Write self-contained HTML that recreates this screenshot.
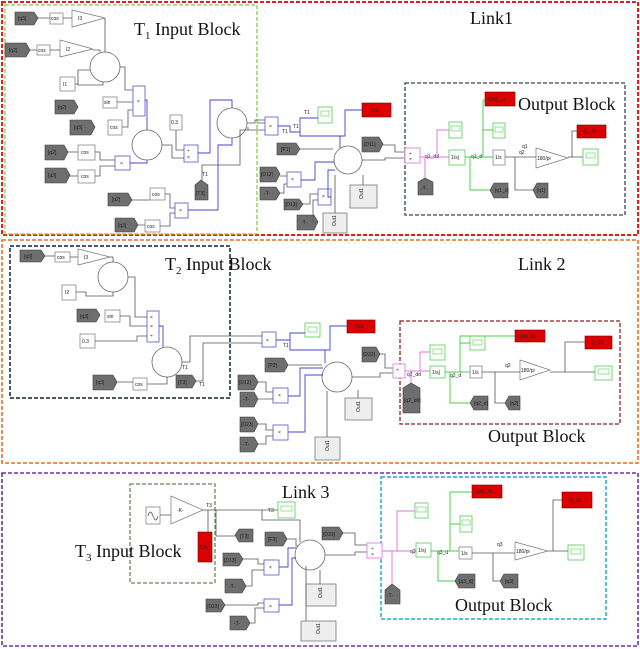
<!DOCTYPE html>
<html><head><meta charset="utf-8"><style>
html,body{margin:0;padding:0;background:#fff;width:640px;height:649px;overflow:hidden}
svg{display:block}
.t{font-family:"Liberation Sans",sans-serif;font-size:5px;fill:#222}
.big{font-family:"Liberation Serif",serif;font-size:18px;fill:#111}
.tag{fill:#6e6e6e;stroke:#3a3a3a;stroke-width:0.6}
.blk{fill:#fff;stroke:#777;stroke-width:0.7}
.bb{fill:#fff;stroke:#55c;stroke-width:0.8}
.pb{fill:#fff;stroke:#e070e0;stroke-width:0.8}
.gb{fill:#fff;stroke:#5c5;stroke-width:0.8}
.red{fill:#dd0000;stroke:#700;stroke-width:0.6}
.out{fill:#eee;stroke:#666;stroke-width:0.7}
.w{fill:none;stroke:#555;stroke-width:0.8}
.wb{fill:none;stroke:#44c;stroke-width:0.9}
.wp{fill:none;stroke:#e070e0;stroke-width:0.9}
.wg{fill:none;stroke:#4c4;stroke-width:0.9}
.c{fill:#fff;stroke:#666;stroke-width:0.8}
</style></head><body>
<svg width="640" height="649" viewBox="0 0 640 649" xmlns="http://www.w3.org/2000/svg">
<rect x="2" y="2" width="636" height="233" fill="none" stroke="#e02020" stroke-width="2" stroke-dasharray="4,2"/>
<rect x="5" y="5" width="252" height="229" fill="none" stroke="#8c4" stroke-width="1.3" stroke-dasharray="4,2"/>
<rect x="405" y="83" width="220" height="132" fill="none" stroke="#345" stroke-width="1.3" stroke-dasharray="4,2"/>
<rect x="2" y="240" width="636" height="223" fill="none" stroke="#e07020" stroke-width="1.6" stroke-dasharray="4,2"/>
<rect x="10" y="246" width="220" height="152" fill="none" stroke="#123" stroke-width="1.5" stroke-dasharray="4,2"/>
<rect x="400" y="321" width="220" height="103" fill="none" stroke="#822" stroke-width="1.3" stroke-dasharray="4,2"/>
<rect x="2" y="473" width="636" height="173" fill="none" stroke="#7030a0" stroke-width="1.6" stroke-dasharray="4,2"/>
<rect x="130" y="484" width="85" height="99" fill="none" stroke="#685" stroke-width="1.3" stroke-dasharray="4,2"/>
<rect x="381" y="477" width="225" height="142" fill="none" stroke="#2ac" stroke-width="1.5" stroke-dasharray="4,2"/>

<text class="big" x="134" y="35">T<tspan font-size="11" dy="4">1</tspan><tspan dy="-4"> Input Block</tspan></text>
<text class="big" x="470" y="24">Link1</text>
<text class="big" x="518" y="110">Output Block</text>
<text class="big" x="165" y="270">T<tspan font-size="11" dy="4">2</tspan><tspan dy="-4"> Input Block</tspan></text>
<text class="big" x="518" y="270">Link 2</text>
<text class="big" x="488" y="442">Output Block</text>
<text class="big" x="282" y="498">Link 3</text>
<text class="big" x="75" y="557">T<tspan font-size="11" dy="4">3</tspan><tspan dy="-4"> Input Block</tspan></text>
<text class="big" x="455" y="611">Output Block</text>

<g>
<polygon class="tag" points="15,12 34,12 38,18 34,25 15,25"/><text class="t" x="18" y="20">[q3]</text>
<rect class="blk" x="50" y="13" width="13" height="11"/><text class="t" x="51" y="20">cos</text>
<polygon class="blk" points="72,10 105,18 72,27"/><text class="t" x="78" y="20">I3</text>
<polygon class="tag" points="5,43 26,43 30,50 26,57 5,57"/><text class="t" x="9" y="52">[q2]</text>
<rect class="blk" x="37" y="45" width="13" height="10"/><text class="t" x="38" y="52">cos</text>
<polygon class="blk" points="60,40 93,49 60,57"/><text class="t" x="66" y="51">I2</text>
<circle class="c" cx="105" cy="67" r="15"/>
<rect class="blk" x="60" y="77" width="15" height="14"/><text class="t" x="63" y="86">I1</text>
<polygon class="tag" points="55,100 74,100 78,107 74,114 55,114"/><text class="t" x="58" y="109">[q2]</text>
<rect class="blk" x="103" y="97" width="14" height="11"/><text class="t" x="104" y="104">sin</text>
<rect class="bb" x="133" y="86" width="12" height="30"/><text class="t" x="137" y="103" fill="#44c">×</text>
<polygon class="tag" points="70,120 91,120 95,127 91,135 70,135"/><text class="t" x="74" y="129">[q3]</text>
<rect class="blk" x="108" y="120" width="14" height="15"/><text class="t" x="110" y="129">cos</text>
<circle class="c" cx="147" cy="145" r="15"/>
<polygon class="tag" points="45,145 64,145 68,152 64,160 45,160"/><text class="t" x="48" y="154">[q2]</text>
<rect class="blk" x="78" y="145" width="17" height="15"/><text class="t" x="81" y="154">cos</text>
<polygon class="tag" points="45,168 66,168 70,175 66,183 45,183"/><text class="t" x="48" y="177">[q3]</text>
<rect class="blk" x="78" y="170" width="17" height="13"/><text class="t" x="81" y="178">cos</text>
<rect class="bb" x="115" y="156" width="15" height="14"/><text class="t" x="120" y="165" fill="#44c">×</text>
<rect class="blk" x="170" y="115" width="12" height="15"/><text class="t" x="171" y="124">0.3</text>
<rect class="bb" x="184" y="145" width="14" height="17"/><text class="t" x="187" y="152" fill="#44c">÷</text><text class="t" x="187" y="159" fill="#44c">×</text>
<circle class="c" cx="232" cy="123" r="15"/>
<polygon class="tag" points="195,185 201,180 208,185 208,200 195,200"/><text class="t" x="196" y="195">[T3]</text><text class="t" x="202" y="176">T1</text>
<polygon class="tag" points="108,193 128,193 132,200 128,206 108,206"/><text class="t" x="112" y="201">[q2]</text>
<rect class="blk" x="150" y="188" width="15" height="12"/><text class="t" x="152" y="196">cos</text>
<rect class="bb" x="175" y="203" width="13" height="15"/><text class="t" x="179" y="212" fill="#44c">×</text>
<polygon class="tag" points="115,218 134,218 138,225 134,232 115,232"/><text class="t" x="118" y="227">[q3]</text>
<rect class="blk" x="145" y="220" width="15" height="12"/><text class="t" x="147" y="228">cos</text>
<path class="w" d="M38,18H50M63,18H72M105,18V52M30,50H37M50,50H60M93,50H100V52M75,84H78V70H90M78,84V85H103V82M120,67H125V90H133M117,102H133M122,127H128V110H133M68,152H78M95,152H100V160H115M70,176H78M95,176H100V166H115M162,145H172V158H184M176,130V150H184M132,200H150M165,194H170V208H175M138,225H145M160,226H170V213H175M202,180V165H240V130H265M247,123H255V120H265"/>
<path class="wb" d="M145,100H147V130M130,163H147V160M198,153H210V100H232V108M188,210H218V145H232V138"/>
<rect class="bb" x="265" y="117" width="13" height="18"/><text class="t" x="269" y="128" fill="#44c">×</text>
<text class="t" x="282" y="133" fill="#44c">T1</text><text class="t" x="293" y="128" fill="#44c">T1</text><text class="t" x="304" y="114" fill="#44c">T1</text>
<rect class="gb" x="318" y="107" width="14" height="16"/><rect x="321" y="111" width="8" height="5" fill="none" stroke="#5c5" stroke-width="0.6"/>
<rect class="red" x="362" y="103" width="29" height="14"/><text class="t" x="370" y="112">T1s</text>
<circle class="c" cx="348" cy="160" r="14"/>
<polygon class="tag" points="277,143 296,143 300,149 296,155 277,155"/><text class="t" x="281" y="151">[P1]</text>
<polygon class="tag" points="362,137 379,137 383,144 379,152 362,152"/><text class="t" x="364" y="146">[D11]</text>
<polygon class="tag" points="260,167 276,167 280,174 276,182 260,182"/><text class="t" x="261" y="176">[D12]</text>
<polygon class="tag" points="260,187 276,187 280,193 276,200 260,200"/><text class="t" x="264" y="195">-T-</text>
<rect class="bb" x="287" y="172" width="14" height="15"/><text class="t" x="291" y="181" fill="#44c">×</text>
<polygon class="tag" points="284,199 299,199 303,204 299,210 284,210"/><text class="t" x="285" y="206">[D13]</text>
<rect class="bb" x="318" y="189" width="13" height="16"/><text class="t" x="322" y="198" fill="#44c">×</text>
<polygon class="tag" points="297,215 314,215 318,222 314,230 297,230"/><text class="t" x="301" y="224">-T-</text>
<rect class="out" x="350" y="185" width="27" height="23"/><text class="t" x="360" y="198" transform="rotate(-90 362 197)">Out1</text>
<rect class="out" x="323" y="213" width="24" height="20"/><text class="t" x="332" y="224" transform="rotate(-90 335 223)">Out1</text>
<path class="wb" d="M278,126H290V132H300V118H318M300,132V136H340V148M300,136H345V110H362M301,180H315V162H334M331,197H328V170H335"/>
<path class="w" d="M248,127V130M300,149H333M280,176H287M280,193H284V184H287M303,204H310V194H318M318,222H313V200H318M362,160H385V158H405M383,145H395V152H405M363,185V175M335,213V175M257,123H265"/>
<rect class="pb" x="405" y="148" width="15" height="15"/><text class="t" x="409" y="155" fill="#d050d0">÷</text><text class="t" x="409" y="161" fill="#d050d0">×</text>
<polygon class="tag" points="418,182 425,178 433,182 433,195 418,195"/><text class="t" x="421" y="190">-T-</text>
<rect class="gb" x="449" y="122" width="13" height="16"/><rect x="451" y="126" width="9" height="5" fill="none" stroke="#5c5" stroke-width="0.6"/>
<rect class="gb" x="449" y="150" width="16" height="15"/><text class="t" x="451" y="159" fill="#3a3">1/s∫</text>
<rect class="blk" x="493" y="150" width="12" height="15"/><text class="t" x="495" y="159">1/s</text>
<polygon class="blk" points="536,148 568,158 536,168"/><text class="t" x="537" y="160">180/pi</text>
<rect class="gb" x="583" y="149" width="15" height="16"/><rect x="586" y="153" width="9" height="5" fill="none" stroke="#5c5" stroke-width="0.6"/>
<rect class="red" x="485" y="92" width="30" height="14"/><text class="t" x="488" y="101">Qdd_1s</text>
<rect class="red" x="577" y="125" width="29" height="13"/><text class="t" x="584" y="133">Q_1s</text>
<rect class="gb" x="493" y="123" width="12" height="15"/><rect x="495" y="127" width="8" height="5" fill="none" stroke="#5c5" stroke-width="0.6"/>
<polygon class="tag" points="490,190 494,183 508,183 508,198 494,198"/><text class="t" x="495" y="192">[q1_d]</text>
<polygon class="tag" points="533,190 537,183 548,183 548,198 537,198"/><text class="t" x="537" y="192">[q1]</text>
<text class="t" x="425" y="158">q1_dd</text><text class="t" x="471" y="158">q1_d</text><text class="t" x="522" y="148">q1</text><text class="t" x="519" y="154">q2</text>
<path class="wp" d="M420,157H449M437,157V130H449M425,157V178"/>
<path class="wg" d="M465,157H493M483,157V100H485M483,130H493M470,157V190H490"/>
<path class="w" d="M505,157H536M515,157V190H533M568,157H583M572,157V131H577"/>
</g>

<g>
<polygon class="tag" points="20,250 41,250 45,256 41,262 20,262"/><text class="t" x="24" y="258">[q3]</text>
<rect class="blk" x="55" y="252" width="15" height="10"/><text class="t" x="57" y="259">cos</text>
<polygon class="blk" points="78,249 110,257 78,265"/><text class="t" x="84" y="259">I3</text>
<circle class="c" cx="113" cy="277" r="15"/>
<rect class="blk" x="62" y="285" width="14" height="15"/><text class="t" x="65" y="294">I2</text>
<polygon class="tag" points="77,309 96,309 100,315 96,322 77,322"/><text class="t" x="80" y="318">[q3]</text>
<rect class="blk" x="105" y="310" width="15" height="12"/><text class="t" x="107" y="318">sin</text>
<rect class="bb" x="147" y="311" width="12" height="31"/><text class="t" x="150" y="319" fill="#44c">×</text><text class="t" x="150" y="328" fill="#44c">×</text><text class="t" x="150" y="337" fill="#44c">÷</text>
<rect class="blk" x="80" y="334" width="15" height="14"/><text class="t" x="82" y="343">0.3</text>
<circle class="c" cx="167" cy="362" r="15"/>
<polygon class="tag" points="93,375 113,375 117,382 113,390 93,390"/><text class="t" x="96" y="384">[q3]</text>
<rect class="blk" x="133" y="378" width="14" height="12"/><text class="t" x="135" y="386">cos</text>
<polygon class="tag" points="176,375 192,375 196,381 192,388 176,388"/><text class="t" x="178" y="384">[T3]</text>
<text class="t" x="182" y="369">T1</text><text class="t" x="199" y="386">T1</text>
<path class="w" d="M45,256H55M70,257H78M110,257H113V262M76,292H86V296H113V292M128,277H135V317H147M120,316H130V326H147M95,341H137V336H147M117,382H133M147,384H167V377M182,362H190V336H262M196,381H203V343H262"/>
<path class="wb" d="M159,326H163V347"/>
<rect class="bb" x="262" y="332" width="14" height="15"/><text class="t" x="266" y="342" fill="#44c">×</text>
<text class="t" x="283" y="347" fill="#44c">T1</text>
<rect class="gb" x="305" y="323" width="15" height="14"/><rect x="308" y="327" width="9" height="5" fill="none" stroke="#5c5" stroke-width="0.6"/>
<rect class="red" x="347" y="320" width="28" height="13"/><text class="t" x="355" y="328">T2s</text>
<circle class="c" cx="337" cy="377" r="15"/>
<polygon class="tag" points="265,358 284,358 288,365 284,372 265,372"/><text class="t" x="268" y="367">[P2]</text>
<polygon class="tag" points="238,375 254,375 258,382 254,390 238,390"/><text class="t" x="239" y="384">[D12]</text>
<polygon class="tag" points="240,392 254,392 258,399 254,407 240,407"/><text class="t" x="243" y="401">-T-</text>
<rect class="bb" x="273" y="388" width="15" height="15"/><text class="t" x="278" y="397" fill="#44c">×</text>
<polygon class="tag" points="240,417 254,417 258,424 254,432 240,432"/><text class="t" x="241" y="426">[D23]</text>
<polygon class="tag" points="240,437 254,437 258,444 254,452 240,452"/><text class="t" x="243" y="446">-T-</text>
<rect class="bb" x="273" y="425" width="15" height="15"/><text class="t" x="278" y="434" fill="#44c">×</text>
<rect class="out" x="345" y="398" width="27" height="22"/><text class="t" x="355" y="411" transform="rotate(-90 358 409)">Out1</text>
<rect class="out" x="315" y="437" width="25" height="23"/><text class="t" x="324" y="450" transform="rotate(-90 327 448)">Out1</text>
<polygon class="tag" points="362,347 376,347 380,354 376,362 362,362"/><text class="t" x="363" y="356">[D22]</text>
<path class="wb" d="M276,340H290V333H305M290,340V350H325V363M290,350H330V326H347M288,396H300V368H323M288,432H305V375H323"/>
<path class="w" d="M288,365H322M258,382H266V392H273M258,399H273M258,424H266V430H273M258,444H266V436H273M358,398V390M327,437V391M352,377H380V373H393M380,354H385V368H393"/>
<rect class="pb" x="393" y="364" width="12" height="14"/><text class="t" x="396" y="371" fill="#d050d0">÷</text>
<polygon class="tag" points="403,388 411,383 420,388 420,413 403,413"/><text class="t" x="404" y="402">[q2_dd]</text>
<rect class="gb" x="430" y="345" width="15" height="15"/><rect x="433" y="349" width="9" height="5" fill="none" stroke="#5c5" stroke-width="0.6"/>
<rect class="gb" x="430" y="366" width="15" height="12"/><text class="t" x="432" y="374" fill="#3a3">1/s∫</text>
<rect class="blk" x="470" y="366" width="12" height="12"/><text class="t" x="472" y="374">1/s</text>
<polygon class="blk" points="520,360 550,370 520,380"/><text class="t" x="521" y="372">180/pi</text>
<rect class="gb" x="595" y="366" width="17" height="14"/><rect x="598" y="369" width="11" height="5" fill="none" stroke="#5c5" stroke-width="0.6"/>
<rect class="red" x="515" y="330" width="30" height="12"/><text class="t" x="518" y="338">Qdd_2s</text>
<rect class="red" x="585" y="336" width="27" height="13"/><text class="t" x="591" y="344">Q_2s</text>
<rect class="gb" x="470" y="336" width="15" height="14"/><rect x="473" y="340" width="9" height="5" fill="none" stroke="#5c5" stroke-width="0.6"/>
<polygon class="tag" points="470,403 474,396 488,396 488,410 474,410"/><text class="t" x="474" y="405">[q2_d]</text>
<polygon class="tag" points="505,403 509,396 520,396 520,410 509,410"/><text class="t" x="510" y="405">[q2]</text>
<text class="t" x="407" y="376">q2_dd</text><text class="t" x="450" y="377">q2_d</text><text class="t" x="505" y="367">q2</text>
<path class="wp" d="M405,371H430M420,371V352H430M411,371V383"/>
<path class="wg" d="M445,372H470M460,372V336H515M460,343H470M450,372V403H470"/>
<path class="w" d="M482,372H520M495,372V403H505M550,372H595M565,372V342H585"/>
</g>

<g>
<rect class="blk" x="146" y="507" width="14" height="17"/><path d="M148,516 Q150,508 153,516 T158,516" fill="none" stroke="#444" stroke-width="0.7"/>
<polygon class="blk" points="171,496 203,510 171,524"/><text class="t" x="177" y="512">-K-</text>
<rect class="red" x="198" y="532" width="14" height="30"/><text class="t" x="199" y="549">T3s</text>
<text class="t" x="206" y="507">T3</text>
<polygon class="tag" points="235,535 239,529 253,529 253,542 239,542"/><text class="t" x="240" y="538">[T3]</text>
<rect class="gb" x="278" y="502" width="17" height="16"/><rect x="281" y="506" width="11" height="5" fill="none" stroke="#5c5" stroke-width="0.6"/>
<text class="t" x="268" y="512">T3</text>
<polygon class="tag" points="265,532 283,532 287,539 283,546 265,546"/><text class="t" x="268" y="541">[F3]</text>
<circle class="c" cx="310" cy="555" r="15"/>
<polygon class="tag" points="322,527 339,527 343,533 339,540 322,540"/><text class="t" x="323" y="536">[D33]</text>
<polygon class="tag" points="223,553 239,553 243,559 239,566 223,566"/><text class="t" x="224" y="562">[D13]</text>
<rect class="bb" x="264" y="560" width="15" height="15"/><text class="t" x="269" y="569" fill="#44c">×</text>
<polygon class="tag" points="225,579 242,579 246,586 242,593 225,593"/><text class="t" x="229" y="588">-T-</text>
<polygon class="tag" points="206,599 221,599 225,605 221,612 206,612"/><text class="t" x="207" y="608">[D23]</text>
<rect class="bb" x="264" y="599" width="15" height="13"/><text class="t" x="269" y="608" fill="#44c">×</text>
<polygon class="tag" points="230,616 246,616 250,623 246,630 230,630"/><text class="t" x="234" y="625">-T-</text>
<rect class="out" x="306" y="584" width="30" height="22"/><text class="t" x="317" y="597" transform="rotate(-90 320 595)">Out1</text>
<rect class="out" x="301" y="621" width="35" height="20"/><text class="t" x="315" y="633" transform="rotate(-90 318 631)">Out1</text>
<path class="w" d="M160,515H171M203,510H278M208,510V532M216,510V536H235M262,510V520H300V542M287,539H296V546H298M343,533H355V545H367M325,555H355V552H367M243,559H258V564H264M246,586H252V570H264M225,605H258V603H264M250,623H255V608H264M320,584V570M306,621V566"/>
<path class="wb" d="M279,567H288V548H296M279,605H292V558H296"/>
<rect class="pb" x="367" y="543" width="15" height="15"/><text class="t" x="371" y="550" fill="#d050d0">÷</text><text class="t" x="371" y="556" fill="#d050d0">×</text>
<polygon class="tag" points="385,590 392,584 400,590 400,604 385,604"/><text class="t" x="387" y="597">-T-</text>
<rect class="gb" x="415" y="503" width="13" height="15"/><rect x="417" y="507" width="9" height="5" fill="none" stroke="#5c5" stroke-width="0.6"/>
<rect class="gb" x="416" y="543" width="15" height="14"/><text class="t" x="418" y="552" fill="#3a3">1/s∫</text>
<rect class="gb" x="460" y="516" width="12" height="16"/><rect x="462" y="520" width="8" height="5" fill="none" stroke="#5c5" stroke-width="0.6"/>
<rect class="red" x="472" y="485" width="30" height="13"/><text class="t" x="475" y="493">Qdd_3s</text>
<rect class="blk" x="459" y="547" width="13" height="12"/><text class="t" x="461" y="555">1/s</text>
<polygon class="blk" points="515,542 548,551 515,560"/><text class="t" x="516" y="553">180/pi</text>
<rect class="red" x="562" y="492" width="30" height="16"/><text class="t" x="569" y="502">Q_3s</text>
<rect class="gb" x="568" y="545" width="16" height="15"/><rect x="571" y="549" width="10" height="5" fill="none" stroke="#5c5" stroke-width="0.6"/>
<polygon class="tag" points="455,581 459,574 475,574 475,588 459,588"/><text class="t" x="459" y="583">[q3_d]</text>
<polygon class="tag" points="500,581 504,574 518,574 518,588 504,588"/><text class="t" x="505" y="583">[q3]</text>
<text class="t" x="410" y="553">q3</text><text class="t" x="437" y="554">q3_d</text><text class="t" x="497" y="546">q3</text>
<path class="wp" d="M382,551H416M397,551V511H415M392,551V584"/>
<path class="wg" d="M431,551H459M450,551V492H472M450,524H460M438,551V581H455"/>
<path class="w" d="M472,553H515M493,553V581H500M548,551H568M553,551V500H562"/>
</g>
</svg>
</body></html>
